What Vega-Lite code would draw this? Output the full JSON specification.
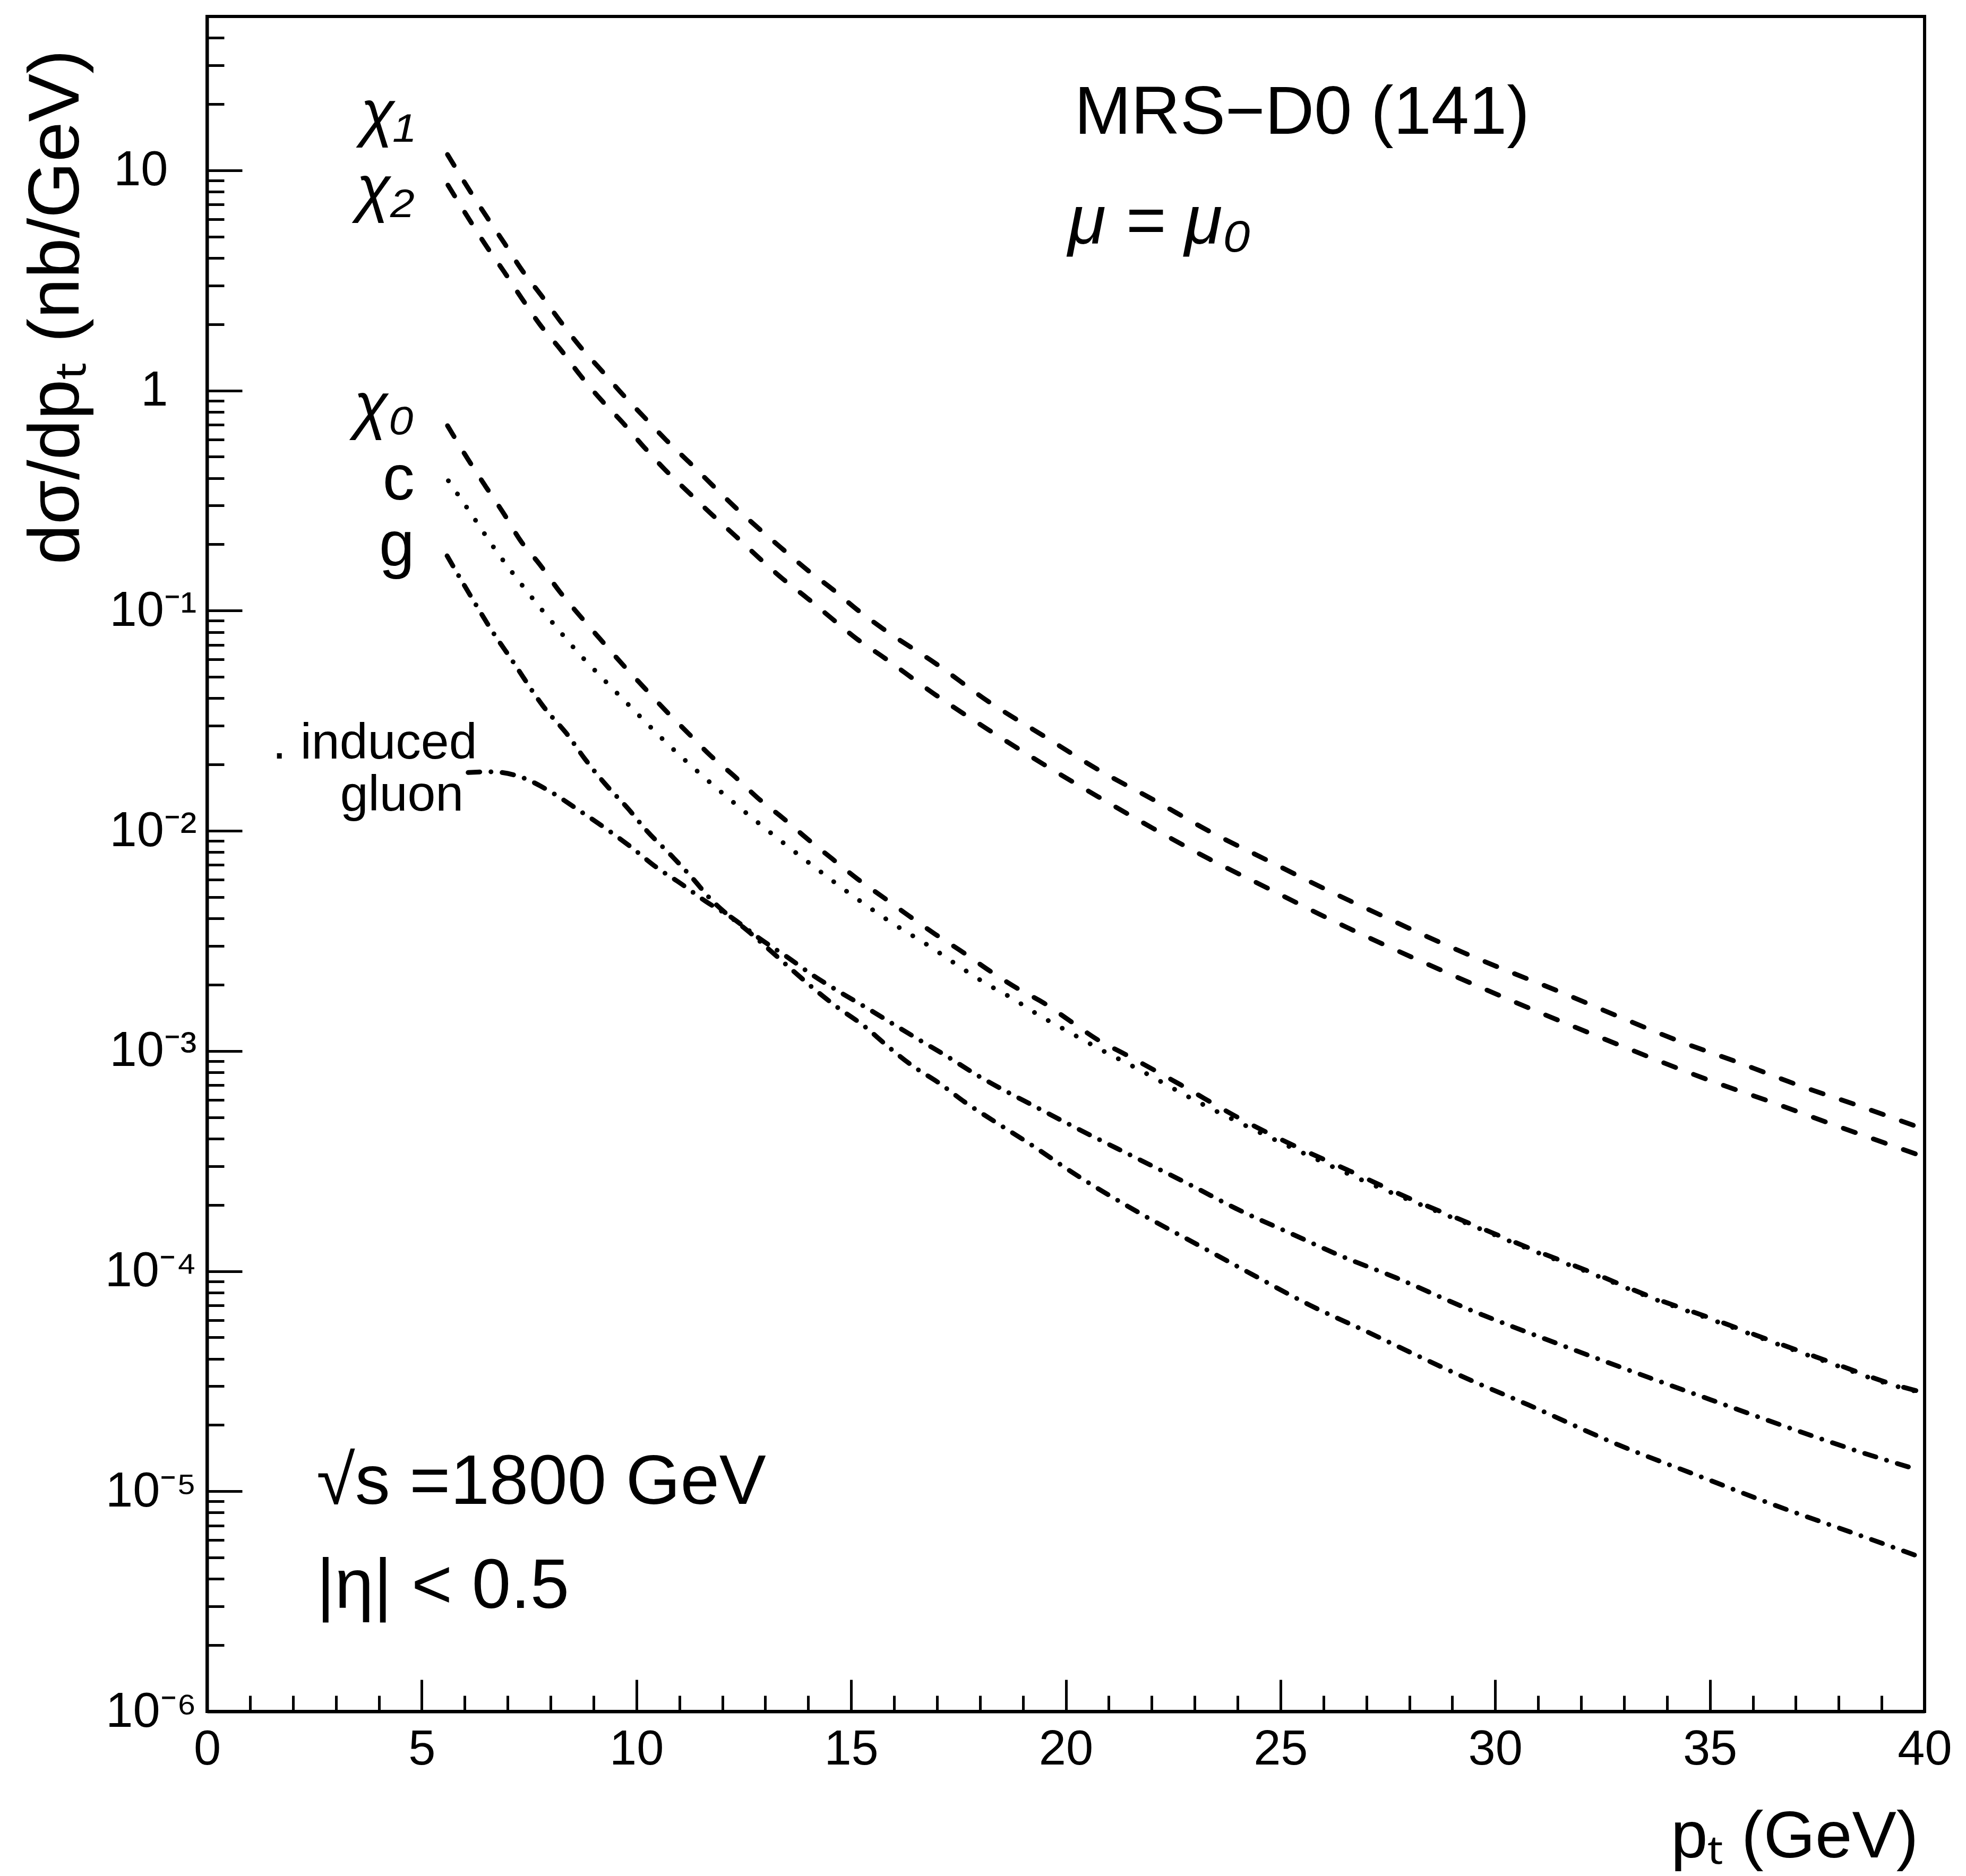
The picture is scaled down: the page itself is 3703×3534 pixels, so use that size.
{
  "$schema": "https://vega.github.io/schema/vega-lite/v6.json",
  "width": 3235,
  "height": 3193,
  "autosize": {"type": "none"},
  "padding": {"left": 390, "top": 31, "right": 78, "bottom": 310},
  "background": "white",
  "config": {
    "font": "Liberation Sans",
    "view": {"stroke": "black", "strokeWidth": 6},
    "axis": {
      "domainColor": "black", "domainWidth": 6,
      "tickColor": "black", "tickWidth": 5,
      "labelColor": "black", "titleColor": "black",
      "grid": false, "labelFont": "Liberation Sans", "titleFont": "Liberation Sans",
      "titleFontWeight": "normal", "labelOverlap": false, "labelFlush": false, "labelBound": false
    }
  },
  "datasets": {
    "curves": [
      {"series": "chi1", "pt": 5.6, "xsec": 11.8},
      {"series": "chi1", "pt": 6.11, "xsec": 8.13},
      {"series": "chi1", "pt": 6.52, "xsec": 6.12},
      {"series": "chi1", "pt": 6.93, "xsec": 4.65},
      {"series": "chi1", "pt": 7.33, "xsec": 3.53},
      {"series": "chi1", "pt": 7.78, "xsec": 2.71},
      {"series": "chi1", "pt": 8.23, "xsec": 2.06},
      {"series": "chi1", "pt": 8.68, "xsec": 1.59},
      {"series": "chi1", "pt": 9.17, "xsec": 1.243},
      {"series": "chi1", "pt": 9.67, "xsec": 0.964},
      {"series": "chi1", "pt": 10.18, "xsec": 0.757},
      {"series": "chi1", "pt": 10.69, "xsec": 0.596},
      {"series": "chi1", "pt": 11.22, "xsec": 0.474},
      {"series": "chi1", "pt": 11.76, "xsec": 0.373},
      {"series": "chi1", "pt": 12.29, "xsec": 0.296},
      {"series": "chi1", "pt": 12.85, "xsec": 0.236},
      {"series": "chi1", "pt": 13.41, "xsec": 0.190},
      {"series": "chi1", "pt": 13.98, "xsec": 0.153},
      {"series": "chi1", "pt": 14.58, "xsec": 0.1245},
      {"series": "chi1", "pt": 15.13, "xsec": 0.1014},
      {"series": "chi1", "pt": 15.74, "xsec": 0.0828},
      {"series": "chi1", "pt": 16.97, "xsec": 0.0575},
      {"series": "chi1", "pt": 18.21, "xsec": 0.0385},
      {"series": "chi1", "pt": 19.48, "xsec": 0.0270},
      {"series": "chi1", "pt": 20.75, "xsec": 0.01897},
      {"series": "chi1", "pt": 22.05, "xsec": 0.01380},
      {"series": "chi1", "pt": 23.35, "xsec": 0.00993},
      {"series": "chi1", "pt": 24.69, "xsec": 0.00735},
      {"series": "chi1", "pt": 26.03, "xsec": 0.00545},
      {"series": "chi1", "pt": 27.38, "xsec": 0.00410},
      {"series": "chi1", "pt": 28.72, "xsec": 0.00311},
      {"series": "chi1", "pt": 30.10, "xsec": 0.00239},
      {"series": "chi1", "pt": 31.48, "xsec": 0.001866},
      {"series": "chi1", "pt": 32.89, "xsec": 0.001429},
      {"series": "chi1", "pt": 34.24, "xsec": 0.001117},
      {"series": "chi1", "pt": 35.66, "xsec": 0.000887},
      {"series": "chi1", "pt": 37.08, "xsec": 0.000697},
      {"series": "chi1", "pt": 38.46, "xsec": 0.000564},
      {"series": "chi1", "pt": 39.84, "xsec": 0.000452},

      {"series": "chi2", "pt": 5.61, "xsec": 8.57},
      {"series": "chi2", "pt": 6.10, "xsec": 6.01},
      {"series": "chi2", "pt": 6.52, "xsec": 4.48},
      {"series": "chi2", "pt": 6.91, "xsec": 3.48},
      {"series": "chi2", "pt": 7.33, "xsec": 2.62},
      {"series": "chi2", "pt": 7.76, "xsec": 1.984},
      {"series": "chi2", "pt": 8.23, "xsec": 1.538},
      {"series": "chi2", "pt": 8.70, "xsec": 1.167},
      {"series": "chi2", "pt": 9.17, "xsec": 0.910},
      {"series": "chi2", "pt": 9.67, "xsec": 0.718},
      {"series": "chi2", "pt": 10.17, "xsec": 0.555},
      {"series": "chi2", "pt": 10.66, "xsec": 0.438},
      {"series": "chi2", "pt": 11.19, "xsec": 0.348},
      {"series": "chi2", "pt": 11.76, "xsec": 0.273},
      {"series": "chi2", "pt": 12.31, "xsec": 0.218},
      {"series": "chi2", "pt": 12.85, "xsec": 0.174},
      {"series": "chi2", "pt": 13.41, "xsec": 0.1393},
      {"series": "chi2", "pt": 13.98, "xsec": 0.1139},
      {"series": "chi2", "pt": 14.58, "xsec": 0.0911},
      {"series": "chi2", "pt": 15.13, "xsec": 0.0745},
      {"series": "chi2", "pt": 15.74, "xsec": 0.0617},
      {"series": "chi2", "pt": 16.97, "xsec": 0.0414},
      {"series": "chi2", "pt": 18.23, "xsec": 0.0285},
      {"series": "chi2", "pt": 19.49, "xsec": 0.0200},
      {"series": "chi2", "pt": 20.75, "xsec": 0.01429},
      {"series": "chi2", "pt": 22.05, "xsec": 0.01021},
      {"series": "chi2", "pt": 23.35, "xsec": 0.00743},
      {"series": "chi2", "pt": 24.69, "xsec": 0.00550},
      {"series": "chi2", "pt": 26.03, "xsec": 0.00407},
      {"series": "chi2", "pt": 27.38, "xsec": 0.00306},
      {"series": "chi2", "pt": 28.76, "xsec": 0.00232},
      {"series": "chi2", "pt": 30.81, "xsec": 0.00156},
      {"series": "chi2", "pt": 32.89, "xsec": 0.001064},
      {"series": "chi2", "pt": 34.97, "xsec": 0.000738},
      {"series": "chi2", "pt": 36.39, "xsec": 0.000590},
      {"series": "chi2", "pt": 37.79, "xsec": 0.000469},
      {"series": "chi2", "pt": 39.84, "xsec": 0.000338},

      {"series": "chi0", "pt": 5.6, "xsec": 0.692},
      {"series": "chi0", "pt": 6.08, "xsec": 0.486},
      {"series": "chi0", "pt": 6.49, "xsec": 0.366},
      {"series": "chi0", "pt": 6.91, "xsec": 0.276},
      {"series": "chi0", "pt": 7.30, "xsec": 0.208},
      {"series": "chi0", "pt": 7.75, "xsec": 0.162},
      {"series": "chi0", "pt": 8.21, "xsec": 0.1222},
      {"series": "chi0", "pt": 8.67, "xsec": 0.0954},
      {"series": "chi0", "pt": 9.16, "xsec": 0.0741},
      {"series": "chi0", "pt": 9.67, "xsec": 0.0572},
      {"series": "chi0", "pt": 10.18, "xsec": 0.0447},
      {"series": "chi0", "pt": 10.66, "xsec": 0.0355},
      {"series": "chi0", "pt": 11.21, "xsec": 0.0277},
      {"series": "chi0", "pt": 11.72, "xsec": 0.0220},
      {"series": "chi0", "pt": 12.27, "xsec": 0.01778},
      {"series": "chi0", "pt": 12.82, "xsec": 0.01413},
      {"series": "chi0", "pt": 13.41, "xsec": 0.01143},
      {"series": "chi0", "pt": 13.97, "xsec": 0.00923},
      {"series": "chi0", "pt": 14.56, "xsec": 0.00746},
      {"series": "chi0", "pt": 15.15, "xsec": 0.00604},
      {"series": "chi0", "pt": 15.74, "xsec": 0.00500},
      {"series": "chi0", "pt": 16.33, "xsec": 0.00413},
      {"series": "chi0", "pt": 16.96, "xsec": 0.00339},
      {"series": "chi0", "pt": 17.60, "xsec": 0.00281},
      {"series": "chi0", "pt": 18.23, "xsec": 0.00231},
      {"series": "chi0", "pt": 18.86, "xsec": 0.00193},
      {"series": "chi0", "pt": 19.49, "xsec": 0.00165},
      {"series": "chi0", "pt": 20.12, "xsec": 0.00136},
      {"series": "chi0", "pt": 20.75, "xsec": 0.001122},
      {"series": "chi0", "pt": 21.38, "xsec": 0.000966},
      {"series": "chi0", "pt": 22.68, "xsec": 0.000701},
      {"series": "chi0", "pt": 23.99, "xsec": 0.000501},
      {"series": "chi0", "pt": 25.32, "xsec": 0.000371},
      {"series": "chi0", "pt": 26.70, "xsec": 0.000280},
      {"series": "chi0", "pt": 28.05, "xsec": 0.000212},
      {"series": "chi0", "pt": 29.43, "xsec": 0.000164},
      {"series": "chi0", "pt": 30.85, "xsec": 0.0001259},
      {"series": "chi0", "pt": 32.27, "xsec": 0.0000982},
      {"series": "chi0", "pt": 33.61, "xsec": 0.0000766},
      {"series": "chi0", "pt": 35.03, "xsec": 0.0000610},
      {"series": "chi0", "pt": 36.41, "xsec": 0.0000484},
      {"series": "chi0", "pt": 37.83, "xsec": 0.0000385},
      {"series": "chi0", "pt": 39.29, "xsec": 0.0000305},
      {"series": "chi0", "pt": 39.88, "xsec": 0.0000284},

      {"series": "c", "pt": 5.62, "xsec": 0.389},
      {"series": "c", "pt": 6.12, "xsec": 0.281},
      {"series": "c", "pt": 6.75, "xsec": 0.185},
      {"series": "c", "pt": 7.42, "xsec": 0.1245},
      {"series": "c", "pt": 8.13, "xsec": 0.0843},
      {"series": "c", "pt": 8.60, "xsec": 0.0658},
      {"series": "c", "pt": 9.12, "xsec": 0.0514},
      {"series": "c", "pt": 9.91, "xsec": 0.0358},
      {"series": "c", "pt": 10.69, "xsec": 0.0252},
      {"series": "c", "pt": 11.52, "xsec": 0.0179},
      {"series": "c", "pt": 12.37, "xsec": 0.01291},
      {"series": "c", "pt": 13.24, "xsec": 0.00940},
      {"series": "c", "pt": 14.11, "xsec": 0.00693},
      {"series": "c", "pt": 14.99, "xsec": 0.00515},
      {"series": "c", "pt": 15.92, "xsec": 0.00385},
      {"series": "c", "pt": 16.86, "xsec": 0.00296},
      {"series": "c", "pt": 17.48, "xsec": 0.00245},
      {"series": "c", "pt": 18.11, "xsec": 0.00204},
      {"series": "c", "pt": 18.74, "xsec": 0.00174},
      {"series": "c", "pt": 19.37, "xsec": 0.001455},
      {"series": "c", "pt": 20.04, "xsec": 0.001230},
      {"series": "c", "pt": 20.71, "xsec": 0.001040},
      {"series": "c", "pt": 21.70, "xsec": 0.000824},
      {"series": "c", "pt": 23.00, "xsec": 0.000598},
      {"series": "c", "pt": 24.34, "xsec": 0.000443},
      {"series": "c", "pt": 25.68, "xsec": 0.000333},
      {"series": "c", "pt": 27.06, "xsec": 0.000251},
      {"series": "c", "pt": 28.44, "xsec": 0.000194},
      {"series": "c", "pt": 29.43, "xsec": 0.000162},
      {"series": "c", "pt": 30.85, "xsec": 0.0001245},
      {"series": "c", "pt": 32.27, "xsec": 0.0000970},
      {"series": "c", "pt": 33.61, "xsec": 0.0000759},
      {"series": "c", "pt": 35.03, "xsec": 0.0000603},
      {"series": "c", "pt": 36.41, "xsec": 0.0000479},
      {"series": "c", "pt": 37.83, "xsec": 0.0000380},
      {"series": "c", "pt": 39.29, "xsec": 0.0000302},
      {"series": "c", "pt": 39.88, "xsec": 0.0000282},

      {"series": "g", "pt": 5.59, "xsec": 0.1774},
      {"series": "g", "pt": 6.24, "xsec": 0.1081},
      {"series": "g", "pt": 6.63, "xsec": 0.0813},
      {"series": "g", "pt": 7.07, "xsec": 0.0608},
      {"series": "g", "pt": 7.89, "xsec": 0.0355},
      {"series": "g", "pt": 8.37, "xsec": 0.0277},
      {"series": "g", "pt": 8.80, "xsec": 0.0212},
      {"series": "g", "pt": 9.28, "xsec": 0.01626},
      {"series": "g", "pt": 9.79, "xsec": 0.01271},
      {"series": "g", "pt": 10.26, "xsec": 0.00991},
      {"series": "g", "pt": 10.81, "xsec": 0.00773},
      {"series": "g", "pt": 11.29, "xsec": 0.00614},
      {"series": "g", "pt": 11.68, "xsec": 0.00501},
      {"series": "g", "pt": 12.70, "xsec": 0.00337},
      {"series": "g", "pt": 14.64, "xsec": 0.00160},
      {"series": "g", "pt": 15.31, "xsec": 0.001294},
      {"series": "g", "pt": 15.86, "xsec": 0.001047},
      {"series": "g", "pt": 16.41, "xsec": 0.000861},
      {"series": "g", "pt": 17.08, "xsec": 0.000708},
      {"series": "g", "pt": 17.64, "xsec": 0.000587},
      {"series": "g", "pt": 18.27, "xsec": 0.000488},
      {"series": "g", "pt": 19.22, "xsec": 0.000372},
      {"series": "g", "pt": 20.16, "xsec": 0.000280},
      {"series": "g", "pt": 21.73, "xsec": 0.000183},
      {"series": "g", "pt": 23.04, "xsec": 0.0001327},
      {"series": "g", "pt": 24.34, "xsec": 0.0000966},
      {"series": "g", "pt": 25.68, "xsec": 0.0000701},
      {"series": "g", "pt": 27.02, "xsec": 0.0000530},
      {"series": "g", "pt": 28.03, "xsec": 0.0000427},
      {"series": "g", "pt": 29.39, "xsec": 0.0000322},
      {"series": "g", "pt": 30.77, "xsec": 0.0000247},
      {"series": "g", "pt": 32.82, "xsec": 0.0000164},
      {"series": "g", "pt": 34.91, "xsec": 0.0000114},
      {"series": "g", "pt": 36.33, "xsec": 0.00000891},
      {"series": "g", "pt": 38.42, "xsec": 0.00000638},
      {"series": "g", "pt": 39.80, "xsec": 0.00000511},

      {"series": "induced", "pt": 6.08, "xsec": 0.0184},
      {"series": "induced", "pt": 6.63, "xsec": 0.01854},
      {"series": "induced", "pt": 7.34, "xsec": 0.01746},
      {"series": "induced", "pt": 7.97, "xsec": 0.01517},
      {"series": "induced", "pt": 8.64, "xsec": 0.01247},
      {"series": "induced", "pt": 9.28, "xsec": 0.01026},
      {"series": "induced", "pt": 9.87, "xsec": 0.00845},
      {"series": "induced", "pt": 10.46, "xsec": 0.00684},
      {"series": "induced", "pt": 11.05, "xsec": 0.00573},
      {"series": "induced", "pt": 11.60, "xsec": 0.00480},
      {"series": "induced", "pt": 12.23, "xsec": 0.00402},
      {"series": "induced", "pt": 12.86, "xsec": 0.00325},
      {"series": "induced", "pt": 13.49, "xsec": 0.00269},
      {"series": "induced", "pt": 14.12, "xsec": 0.00220},
      {"series": "induced", "pt": 14.75, "xsec": 0.001845},
      {"series": "induced", "pt": 15.42, "xsec": 0.001545},
      {"series": "induced", "pt": 16.02, "xsec": 0.00131},
      {"series": "induced", "pt": 16.65, "xsec": 0.001104},
      {"series": "induced", "pt": 17.12, "xsec": 0.000975},
      {"series": "induced", "pt": 17.98, "xsec": 0.000767},
      {"series": "induced", "pt": 19.30, "xsec": 0.000557},
      {"series": "induced", "pt": 20.28, "xsec": 0.000443},
      {"series": "induced", "pt": 21.62, "xsec": 0.000328},
      {"series": "induced", "pt": 22.96, "xsec": 0.000243},
      {"series": "induced", "pt": 23.95, "xsec": 0.000193},
      {"series": "induced", "pt": 25.31, "xsec": 0.0001462},
      {"series": "induced", "pt": 26.31, "xsec": 0.0001194},
      {"series": "induced", "pt": 27.69, "xsec": 0.0000933},
      {"series": "induced", "pt": 29.43, "xsec": 0.0000665},
      {"series": "induced", "pt": 31.52, "xsec": 0.0000463},
      {"series": "induced", "pt": 33.61, "xsec": 0.0000327},
      {"series": "induced", "pt": 35.03, "xsec": 0.0000260},
      {"series": "induced", "pt": 37.12, "xsec": 0.0000186},
      {"series": "induced", "pt": 38.54, "xsec": 0.0000150},
      {"series": "induced", "pt": 39.80, "xsec": 0.0000126}
    ]
  },
  "layer": [
    {
      "data": {"name": "curves"},
      "mark": {"type": "line", "interpolate": "monotone", "strokeCap": "round", "color": "black", "clip": true},
      "encoding": {
        "x": {
          "field": "pt", "type": "quantitative",
          "scale": {"domain": [0, 40], "nice": false, "zero": false},
          "axis": {
            "values": [0,1,2,3,4,5,6,7,8,9,10,11,12,13,14,15,16,17,18,19,20,21,22,23,24,25,26,27,28,29,30,31,32,33,34,35,36,37,38,39,40],
            "format": "d",
            "labelExpr": "datum.value % 5 == 0 ? datum.label : ''",
            "tickSize": {"condition": {"test": "datum.value % 5 == 0", "value": -60}, "value": -30},
            "labelFontSize": 92,
            "labelPadding": 86,
            "title": "pₜ (GeV)",
            "titleFontSize": 125,
            "titleAlign": "right",
            "titleBaseline": "middle",
            "titleX": 3223,
            "titleY": 236
          }
        },
        "y": {
          "field": "xsec", "type": "quantitative",
          "scale": {"type": "log", "domain": [0.000001, 50], "nice": false},
          "axis": {
            "values": [0.000001,0.000002,0.000003,0.000004,0.000005,0.000006,0.000007,0.000008,0.000009,
                       0.00001,0.00002,0.00003,0.00004,0.00005,0.00006,0.00007,0.00008,0.00009,
                       0.0001,0.0002,0.0003,0.0004,0.0005,0.0006,0.0007,0.0008,0.0009,
                       0.001,0.002,0.003,0.004,0.005,0.006,0.007,0.008,0.009,
                       0.01,0.02,0.03,0.04,0.05,0.06,0.07,0.08,0.09,
                       0.1,0.2,0.3,0.4,0.5,0.6,0.7,0.8,0.9,
                       1,2,3,4,5,6,7,8,9,10,20,30,40],
            "labelExpr": "datum.value == 10 ? '10' : datum.value == 1 ? '1' : datum.value == 0.1 ? '10⁻¹' : datum.value == 0.01 ? '10⁻²' : datum.value == 0.001 ? '10⁻³' : datum.value == 0.0001 ? '10⁻⁴' : datum.value == 0.00001 ? '10⁻⁵' : datum.value == 0.000001 ? '10⁻⁶' : ''",
            "tickSize": {"condition": {"test": "abs(log(datum.value)/LN10 - round(log(datum.value)/LN10)) < 0.001", "value": -66}, "value": -32},
            "labelFontSize": 92,
            "labelPadding": {"condition": {"test": "datum.value >= 1", "value": 140}, "value": 86},
            "labelBaseline": "middle",
            "title": "dσ/dpₜ  (nb/GeV)",
            "titleFontSize": 136,
            "titleAngle": -90,
            "titleAlign": "center",
            "titleBaseline": "middle",
            "titleX": -284,
            "titleY": 547
          }
        },
        "strokeDash": {
          "field": "series", "type": "nominal",
          "scale": {"domain": ["chi1", "chi2", "chi0", "c", "g", "induced"],
                    "range": [[24, 36], [24, 36], [24, 36], [0.1, 30], [22, 21, 0.1, 21], [22, 21, 0.1, 21]]},
          "legend": null
        },
        "strokeWidth": {
          "field": "series", "type": "nominal",
          "scale": {"domain": ["chi1", "chi2", "chi0", "c", "g", "induced"], "range": [9, 9, 9, 13, 9, 9]},
          "legend": null
        }
      }
    },
    {
      "data": {"values": [
        {"label": "χ₁", "pt": 4.83, "xsec": 17.7},
        {"label": "χ₂", "pt": 4.83, "xsec": 8.05},
        {"label": "χ₀", "pt": 4.83, "xsec": 0.83}
      ]},
      "mark": {"type": "text", "align": "right", "baseline": "middle", "fontSize": 118, "fontStyle": "italic", "color": "black", "font": "Liberation Sans"},
      "encoding": {
        "x": {"field": "pt", "type": "quantitative"},
        "y": {"field": "xsec", "type": "quantitative"},
        "text": {"field": "label"}
      }
    },
    {
      "data": {"values": [
        {"label": "c", "pt": 4.83, "xsec": 0.39},
        {"label": "g", "pt": 4.83, "xsec": 0.195}
      ]},
      "mark": {"type": "text", "align": "right", "baseline": "middle", "fontSize": 120, "color": "black", "font": "Liberation Sans"},
      "encoding": {
        "x": {"field": "pt", "type": "quantitative"},
        "y": {"field": "xsec", "type": "quantitative"},
        "text": {"field": "label"}
      }
    },
    {
      "data": {"values": [
        {"label": "MRS−D0 (141)", "pt": 20.2, "xsec": 18.1}
      ]},
      "mark": {"type": "text", "align": "left", "baseline": "middle", "fontSize": 128, "color": "black", "font": "Liberation Sans"},
      "encoding": {
        "x": {"field": "pt", "type": "quantitative"},
        "y": {"field": "xsec", "type": "quantitative"},
        "text": {"field": "label"}
      }
    },
    {
      "data": {"values": [
        {"label": "μ = μ₀", "pt": 20.05, "xsec": 5.77}
      ]},
      "mark": {"type": "text", "align": "left", "baseline": "middle", "fontSize": 130, "fontStyle": "italic", "color": "black", "font": "Liberation Sans"},
      "encoding": {
        "x": {"field": "pt", "type": "quantitative"},
        "y": {"field": "xsec", "type": "quantitative"},
        "text": {"field": "label"}
      }
    },
    {
      "data": {"values": [
        {"label": ". induced", "pt": 1.52, "xsec": 0.025},
        {"label": "gluon", "pt": 3.10, "xsec": 0.01452}
      ]},
      "mark": {"type": "text", "align": "left", "baseline": "middle", "fontSize": 95, "color": "black", "font": "Liberation Sans"},
      "encoding": {
        "x": {"field": "pt", "type": "quantitative"},
        "y": {"field": "xsec", "type": "quantitative"},
        "text": {"field": "label"}
      }
    },
    {
      "data": {"values": [
        {"label": "√s =1800 GeV", "pt": 2.55, "xsec": 0.00001094},
        {"label": "|η| < 0.5", "pt": 2.55, "xsec": 0.00000368}
      ]},
      "mark": {"type": "text", "align": "left", "baseline": "middle", "fontSize": 132, "color": "black", "font": "Liberation Sans"},
      "encoding": {
        "x": {"field": "pt", "type": "quantitative"},
        "y": {"field": "xsec", "type": "quantitative"},
        "text": {"field": "label"}
      }
    }
  ]
}
